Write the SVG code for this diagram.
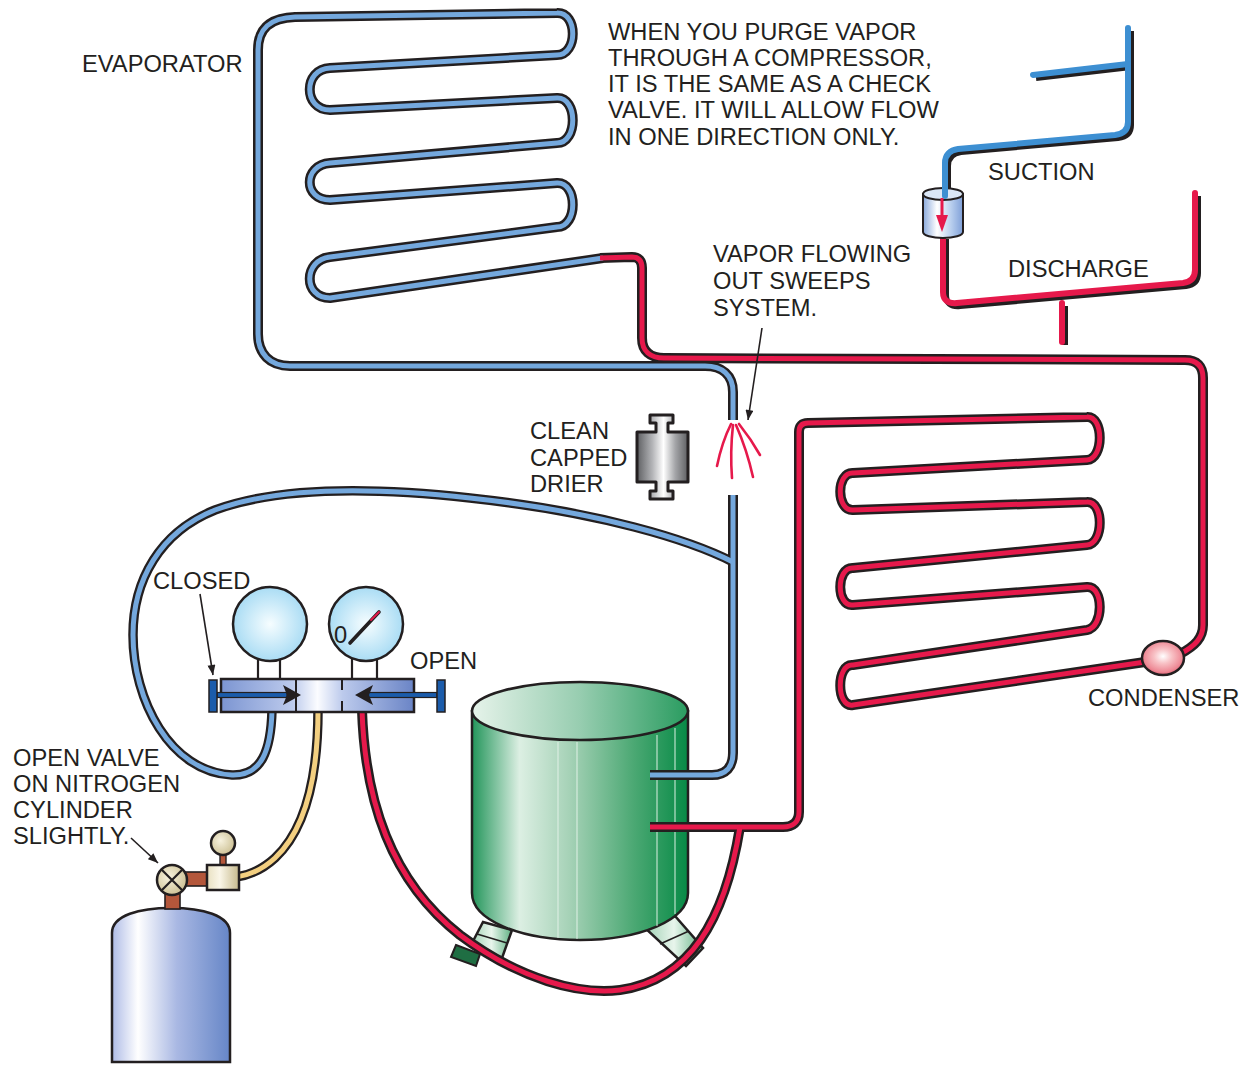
<svg xmlns="http://www.w3.org/2000/svg" width="1248" height="1066" viewBox="0 0 1248 1066">
<defs>
<style>
.ol{fill:none;stroke:#231f20;stroke-width:10;stroke-linejoin:round}
.olh{fill:none;stroke:#231f20;stroke-width:9.5;stroke-linejoin:round}
.bl{fill:none;stroke:#74a8dd;stroke-width:5;stroke-linejoin:round}
.rd{fill:none;stroke:#e6194b;stroke-width:5;stroke-linejoin:round}
.ye{fill:none;stroke:#f3cf80;stroke-width:5}
.sh{fill:none;stroke:#231f20;stroke-width:6;stroke-linejoin:round}
.sb{fill:none;stroke:#3d8fd2;stroke-width:6;stroke-linejoin:round;stroke-linecap:round}
.sr{fill:none;stroke:#e6194b;stroke-width:6;stroke-linejoin:round;stroke-linecap:round}
.ln{fill:none;stroke:#231f20;stroke-width:1.6}
.k{stroke:#231f20;stroke-width:2.5}
.spray{fill:none;stroke:#e6194b;stroke-width:2.6;stroke-linecap:round}
text{font-family:"Liberation Sans",Arial,Helvetica,sans-serif;font-size:23.7px;fill:#231f20}
</style>
<marker id="ah" viewBox="0 0 10 8" refX="10" refY="4" markerWidth="11" markerHeight="8" markerUnits="userSpaceOnUse" orient="auto">
<path d="M0,0 L10,4 L0,8 Z" fill="#231f20"/>
</marker>
<linearGradient id="gBody" x1="472" y1="0" x2="688" y2="0" gradientUnits="userSpaceOnUse">
<stop offset="0" stop-color="#22955a"/><stop offset="0.22" stop-color="#dcefe3"/><stop offset="0.45" stop-color="#a6d2b7"/><stop offset="0.75" stop-color="#4ba873"/><stop offset="1" stop-color="#078a46"/>
</linearGradient>
<linearGradient id="gTop" x1="472" y1="0" x2="688" y2="0" gradientUnits="userSpaceOnUse">
<stop offset="0" stop-color="#e6f3ea"/><stop offset="0.5" stop-color="#97cdb0"/><stop offset="1" stop-color="#2a9c60"/>
</linearGradient>
<linearGradient id="gLeg" x1="0" y1="0" x2="1" y2="0">
<stop offset="0" stop-color="#9fd0b3"/><stop offset="0.5" stop-color="#e8f5ec"/><stop offset="1" stop-color="#5fb283"/>
</linearGradient>
<linearGradient id="gDrier" x1="0" y1="0" x2="1" y2="0">
<stop offset="0" stop-color="#5e5f62"/><stop offset="0.3" stop-color="#b3b4b7"/><stop offset="0.52" stop-color="#ffffff"/><stop offset="0.75" stop-color="#a4a5a8"/><stop offset="1" stop-color="#5e5f62"/>
</linearGradient>
<radialGradient id="gGauge" cx="0.5" cy="0.5" r="0.55">
<stop offset="0" stop-color="#f6fdff"/><stop offset="1" stop-color="#a2d9f3"/>
</radialGradient>
<linearGradient id="gMani" x1="221" y1="0" x2="414" y2="0" gradientUnits="userSpaceOnUse">
<stop offset="0" stop-color="#7c95d2"/><stop offset="0.37" stop-color="#bccaec"/><stop offset="0.5" stop-color="#fbfcff"/><stop offset="0.63" stop-color="#bccaec"/><stop offset="1" stop-color="#6a84c6"/>
</linearGradient>
<linearGradient id="gCyl" x1="0" y1="0" x2="1" y2="0">
<stop offset="0" stop-color="#aebbe6"/><stop offset="0.22" stop-color="#ffffff"/><stop offset="0.55" stop-color="#a9b8e3"/><stop offset="1" stop-color="#6686c7"/>
</linearGradient>
<radialGradient id="gBeige" cx="0.4" cy="0.4" r="0.7">
<stop offset="0" stop-color="#f7f2de"/><stop offset="1" stop-color="#c8bb8c"/>
</radialGradient>
<linearGradient id="gBox" x1="0" y1="0" x2="1" y2="0">
<stop offset="0" stop-color="#e9e1c2"/><stop offset="0.4" stop-color="#faf6e8"/><stop offset="1" stop-color="#c6b98c"/>
</linearGradient>
<radialGradient id="gBulb" cx="0.5" cy="0.45" r="0.6">
<stop offset="0" stop-color="#ffffff"/><stop offset="0.35" stop-color="#f8c2c6"/><stop offset="0.75" stop-color="#ee8a96"/><stop offset="1" stop-color="#dd4f66"/>
</radialGradient>
<linearGradient id="gValve" x1="0" y1="0" x2="1" y2="0">
<stop offset="0" stop-color="#89a9dc"/><stop offset="0.35" stop-color="#ffffff"/><stop offset="0.7" stop-color="#b9cfee"/><stop offset="1" stop-color="#7e9fd8"/>
</linearGradient>

<!-- pipe centre lines -->
<path id="evap" d="M733,420 L733,392 C733,375 722,366 705,366 L290,366 C270,366 258,354 258,334 L258,50 C258,28 270,18 295,17 L557,13 C578,12 578,55 557,55 L330,68 C303,69 303,110 330,110 L557,98 C578,97 578,143 557,143 L330,163 C303,165 303,200 330,200 L557,183 C578,182 578,227 557,227 L330,257 C303,260 303,298 330,298 L603,258"/>
<path id="hot" d="M600,258 L632,257 C639,257 642,261 642,268 L642,338 C642,351 650,358 664,358 L1185,360 C1197,360 1203,366 1203,378 L1203,625 C1203,638 1195,646 1180,654"/>
<path id="cond" d="M1145,662 L853,705 C836,708 836,663 853,665 L1087,630 C1104,627 1104,586 1087,587 L853,605 C836,607 836,567 853,568 L1087,545 C1104,544 1104,501 1087,502 L853,510 C836,511 836,472 853,473 L1087,460 C1104,459 1104,416 1087,417 L808,423 C802,423 799,426 799,432 L799,812 C799,822 793,827 783,827 L650,827"/>
<path id="suct" d="M650,775 L712,775 C726,775 733,767 733,753 L733,495"/>
<path id="hoseB" d="M733,562 C690,540 600,512 470,498 C380,488 280,486 215,510 C160,532 133,580 133,635 C133,700 170,772 232,775 C262,776 271,750 272,710"/>
<path id="hoseR" d="M362,710 C365,800 390,880 460,935 C520,980 580,995 620,990 C690,980 725,920 740,827"/>
<path id="hoseY" d="M318,710 C318,780 305,830 275,858 C262,870 250,875 236,877"/>
<path id="sucU" d="M1128,28 L1128,122 C1128,130 1123,134 1115,135 L958,149 C950,150 945,155 945,163 L945,196"/>
<path id="brU" d="M1033,75 L1128,64"/>
<path id="disU" d="M943,236 L943,292 C943,300 948,304 957,303 L1183,283 C1191,282 1195,278 1195,270 L1195,193"/>
<path id="stubU" d="M1062,303 L1062,342"/>
</defs>

<rect width="1248" height="1066" fill="#ffffff"/>

<!-- nitrogen cylinder with valve -->
<g id="nitrogen-cylinder">
<path d="M112,1062 L112,933 C112,915 140,908 171,908 C202,908 230,915 230,933 L230,1062 Z" fill="url(#gCyl)" class="k"/>
<rect x="165" y="893" width="15" height="16" fill="#b4573b" stroke="#231f20" stroke-width="1.6"/>
<rect x="185" y="872" width="23" height="14" fill="#b4573b" stroke="#231f20" stroke-width="1.6"/>
<rect x="220" y="853" width="6" height="13" fill="#b4573b" stroke="#231f20" stroke-width="1.4"/>
<circle cx="172" cy="880" r="15" fill="url(#gBeige)" class="k"/>
<path d="M162,870 L182,890 M182,870 L162,890" stroke="#231f20" stroke-width="2.2"/>
<circle cx="223" cy="843" r="12" fill="url(#gBeige)" class="k"/>
</g>

<!-- compressor -->
<g id="compressor">
<path d="M483,922 L512,930 L502,958 L471,945 Z" fill="url(#gLeg)" class="k"/>
<path d="M477,934 L507,943" class="ln"/>
<path d="M456,945 L480,954 L476,966 L451,957 Z" fill="#1f6e43" stroke="#231f20" stroke-width="2"/>
<path d="M645,928 L675,916 L703,948 L686,966 Z" fill="url(#gLeg)" class="k"/>
<path d="M660,944 L689,931" class="ln"/>
<path d="M472,711 L472,893 C472,920 520,940 580,940 C640,940 688,920 688,893 L688,711 Z" fill="url(#gBody)" class="k"/>
<path d="M558,742 L558,938 M577,742 L577,939 M657,735 L657,926 M675,728 L675,914" stroke="#e4f3ea" stroke-width="1.2" opacity="0.8"/>
<ellipse cx="580" cy="711" rx="108" ry="29" fill="url(#gTop)" class="k"/>
</g>

<!-- clean capped drier -->
<g id="drier">
<path d="M650,415 H673 V423 H668 V432 H688 V482 H668 V491 H673 V499 H650 V491 H656 V482 H637 V432 H656 V423 H650 Z" fill="url(#gDrier)" stroke="#231f20" stroke-width="3" stroke-linejoin="round"/>
</g>

<!-- refrigerant lines and service hoses -->
<g id="connectors">
<use href="#evap" class="ol"/>
<use href="#hot" class="ol"/>
<use href="#cond" class="ol"/>
<use href="#suct" class="ol"/>
<use href="#hoseB" class="olh"/>
<use href="#hoseR" class="ol"/>
<use href="#hoseY" class="olh"/>
<use href="#evap" class="bl"/>
<use href="#suct" class="bl"/>
<use href="#hoseB" class="bl"/>
<use href="#hot" class="rd"/>
<use href="#cond" class="rd"/>
<use href="#hoseR" class="rd"/>
<use href="#hoseY" class="ye"/>

<!-- vapor sweeping out of the open line -->
<path d="M731,424 Q722,442 717,466" class="spray"/>
<path d="M733,425 Q730,452 732,478" class="spray"/>
<path d="M736,425 Q747,450 753,477" class="spray"/>
<path d="M739,424 Q751,439 760,455" class="spray"/>

<!-- compressor suction / discharge detail -->
<use href="#sucU" class="sh" transform="translate(3,3)"/>
<use href="#brU" class="sh" transform="translate(3,3)"/>
<use href="#disU" class="sh" transform="translate(3,3)"/>
<use href="#stubU" class="sh" transform="translate(3,3)"/>
<use href="#disU" class="sr"/>
<use href="#stubU" class="sr"/>
</g>

<!-- check valve between suction and discharge -->
<g id="check-valve">
<path d="M923,194 L923,232 A20,6 0 0 0 963,232 L963,194 Z" fill="url(#gValve)" stroke="#231f20" stroke-width="2"/>
<ellipse cx="943" cy="194" rx="20" ry="6" fill="#dbe7f7" stroke="#231f20" stroke-width="2"/>
<use href="#sucU" class="sb"/>
<use href="#brU" class="sb"/>
<line x1="942" y1="198" x2="942" y2="218" stroke="#e6194b" stroke-width="3"/>
<path d="M936,215 L948,215 L942,232 Z" fill="#e6194b"/>
</g>

<!-- condenser receiver bulb -->
<g id="condenser-bulb">
<ellipse cx="1163" cy="658" rx="21" ry="17" fill="url(#gBulb)" class="k"/>
</g>

<!-- gauge manifold -->
<g id="manifold">
<path d="M258,658 V679 M280,658 V679 M352,658 V679 M377,658 V679" stroke="#231f20" stroke-width="2.2"/>
<circle cx="270" cy="624" r="37" fill="url(#gGauge)" class="k"/>
<circle cx="366" cy="624" r="37" fill="url(#gGauge)" class="k"/>
<line x1="350" y1="643" x2="379" y2="612" stroke="#231f20" stroke-width="3.6" stroke-linecap="round"/>
<line x1="371" y1="620" x2="379" y2="612" stroke="#e6194b" stroke-width="1.8" stroke-linecap="round"/>
<text x="334" y="643">0</text>
<rect x="221" y="679" width="193" height="33" fill="url(#gMani)" class="k"/>
<path d="M296,679 V712 M342,679 V690 M342,701 V712" stroke="#231f20" stroke-width="2"/>
<rect x="217" y="692.5" width="70" height="5" fill="#1b5cab" stroke="#231f20" stroke-width="1.2"/>
<path d="M283,685 L301,695 L283,705 L287,695 Z" fill="#231f20"/>
<rect x="368" y="692.5" width="69" height="5" fill="#1b5cab" stroke="#231f20" stroke-width="1.2"/>
<path d="M373,685 L355,695 L373,705 L369,695 Z" fill="#231f20"/>
<rect x="209" y="680" width="8" height="32" fill="#1b5cab" stroke="#231f20" stroke-width="1.5"/>
<rect x="437" y="680" width="8" height="32" fill="#1b5cab" stroke="#231f20" stroke-width="1.5"/>
</g>

<!-- regulator on the cylinder -->
<g id="regulator">
<rect x="207" y="865" width="32" height="25" fill="url(#gBox)" class="k"/>
</g>

<!-- leader lines -->
<g id="leaders">
<line x1="762" y1="328" x2="748" y2="420" class="ln" marker-end="url(#ah)"/>
<line x1="200" y1="594" x2="213" y2="675" class="ln" marker-end="url(#ah)"/>
<line x1="131" y1="838" x2="158" y2="863" class="ln" marker-end="url(#ah)"/>
</g>

<!-- labels -->
<g id="labels">
<text x="82" y="72">EVAPORATOR</text>
<text x="608" y="39.5"><tspan x="608">WHEN YOU PURGE VAPOR</tspan><tspan x="608" dy="26.3">THROUGH A COMPRESSOR,</tspan><tspan x="608" dy="26.3">IT IS THE SAME AS A CHECK</tspan><tspan x="608" dy="26.3">VALVE. IT WILL ALLOW FLOW</tspan><tspan x="608" dy="26.3">IN ONE DIRECTION ONLY.</tspan></text>
<text x="988" y="180">SUCTION</text>
<text x="1008" y="277">DISCHARGE</text>
<text x="713" y="262"><tspan x="713">VAPOR FLOWING</tspan><tspan x="713" dy="27">OUT SWEEPS</tspan><tspan x="713" dy="27">SYSTEM.</tspan></text>
<text x="530" y="439"><tspan x="530">CLEAN</tspan><tspan x="530" dy="26.5">CAPPED</tspan><tspan x="530" dy="26.5">DRIER</tspan></text>
<text x="153" y="589">CLOSED</text>
<text x="410" y="669">OPEN</text>
<text x="1088" y="706">CONDENSER</text>
<text x="13" y="765.5"><tspan x="13">OPEN VALVE</tspan><tspan x="13" dy="26.3">ON NITROGEN</tspan><tspan x="13" dy="26.3">CYLINDER</tspan><tspan x="13" dy="26.3">SLIGHTLY.</tspan></text>
</g>
</svg>
